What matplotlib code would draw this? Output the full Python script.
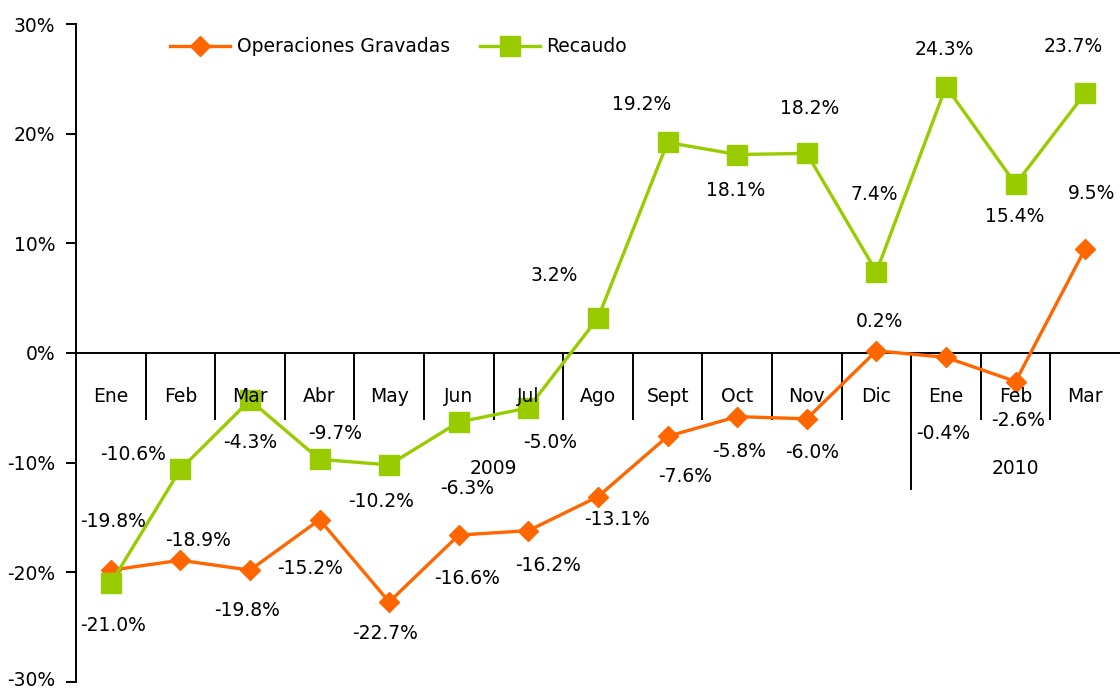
import numpy as np
import matplotlib.pyplot as plt
from matplotlib.transforms import ScaledTranslation

# data
months = ['Ene', 'Feb', 'Mar', 'Abr', 'May', 'Jun', 'Jul', 'Ago', 'Sept', 'Oct', 'Nov', 'Dic',
          'Ene', 'Feb', 'Mar']
years = ['2009', '2010']
year_sizes = [12, 3]
operaciones = [-19.8, -18.9, -19.8, -15.2, -22.7, -16.6, -16.2, -13.1, -7.6, -5.8, -6.0, 0.2,
               -0.4, -2.6, 9.5]
recaudo = [-21.0, -10.6, -4.3, -9.7, -10.2, -6.3, -5.0, 3.2, 19.2, 18.1, 18.2, 7.4,
           24.3, 15.4, 23.7]
yticks = [-30, -20, -10, 0, 10, 20, 30]

# label offsets in pixels (dx, dy), as placed in the original
op_offsets = [(2, 49), (18, 20), (-3, -40), (-10, -49), (-4, -32), (8, -43), (20, -35),
              (19, -23), (18, -40), (2, -35), (5, -34), (3, 29), (-3, -76), (3, -39), (6, 55)]
rec_offsets = [(2, -42), (-47, 15), (0, -42), (16, 26), (-8, -37), (8, -66), (22, -35),
               (-44, 42), (-26, 38), (-2, -36), (3, 45), (-2, 77), (-2, 37), (-1, -32), (-12, 47)]

orange = '#FF6600'
green = '#99CC00'
fs = 13.5

plt.rcParams['font.family'] = ['DejaVu Sans']

fig = plt.figure(figsize=(11.2, 6.89), dpi=100)
ax = fig.add_axes([76 / 1120, 7 / 689, 1044 / 1120, 658 / 689])

x = np.arange(len(months))
ax.plot(x, operaciones, color=orange, lw=2.4, marker='D', ms=10, label='Operaciones Gravadas',
        zorder=3)
ax.plot(x, recaudo, color=green, lw=2.4, marker='s', ms=14, label='Recaudo', zorder=3)

for xi, v, (dx, dy) in zip(x, operaciones, op_offsets):
    ax.annotate(f'{v:.1f}%', (xi, v), xytext=(dx, dy), textcoords='offset pixels',
                ha='center', va='center', fontsize=fs, zorder=5)
for xi, v, (dx, dy) in zip(x, recaudo, rec_offsets):
    ax.annotate(f'{v:.1f}%', (xi, v), xytext=(dx, dy), textcoords='offset pixels',
                ha='center', va='center', fontsize=fs, zorder=5)

# category axis at 0 with month and year groups
ax.axhline(0, color='black', lw=1.4, zorder=2)
for b in range(1, len(months)):
    ax.plot([b - 0.5, b - 0.5], [0, -6.0], color='black', lw=1.4, zorder=2)
for xi, m in zip(x, months):
    ax.text(xi, -4.0, m, ha='center', va='center', fontsize=fs, zorder=4)

start = 0
for yr, n in zip(years, year_sizes):
    if start > 0:
        ax.plot([start - 0.5, start - 0.5], [0, -12.4], color='black', lw=1.4, zorder=2)
    ax.text(start + (n - 1) / 2, -10.5, yr, ha='center', va='center', fontsize=fs, zorder=4)
    start += n

ax.set_xlim(-0.5, len(months) - 0.5)
ax.set_ylim(-30, 30)
ax.set_yticks(yticks)
ax.set_yticklabels([f'{t}%' for t in yticks], fontsize=fs)
ax.tick_params(axis='y', direction='out', length=7, width=1.4, pad=8)
# lift the bottom label a little so it stays inside the picture
bottom_lbl = ax.get_yticklabels()[0]
bottom_lbl.set_transform(bottom_lbl.get_transform() + ScaledTranslation(0, 4 / 100, fig.dpi_scale_trans))
ax.set_xticks([])
for s in ['top', 'right', 'bottom']:
    ax.spines[s].set_visible(False)
ax.spines['left'].set_linewidth(1.4)

ax.legend(loc='upper left', bbox_to_anchor=(81 / 1044, 1.0), ncol=2, frameon=False,
          fontsize=fs, handlelength=3.2, handletextpad=0.35, columnspacing=1.6,
          borderaxespad=0.3)

plt.savefig('out.png', dpi=100, facecolor='white')
